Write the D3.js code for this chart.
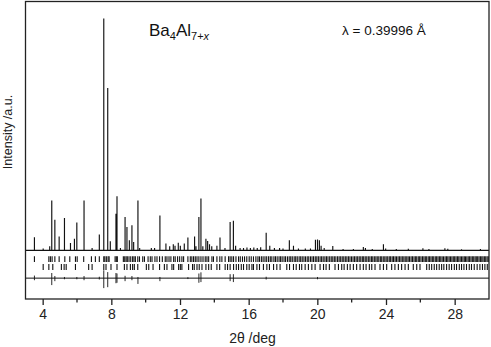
<!DOCTYPE html>
<html><head><meta charset="utf-8">
<script src="https://cdn.jsdelivr.net/npm/d3@7"></script>
<style>body{margin:0;background:#fff}svg{display:block;font-family:"Liberation Sans",Arial,sans-serif}</style>
</head><body><svg id="c" width="491" height="347"></svg>
<script>
// observed peaks: 2theta (deg) and relative intensity
const peakPos = [3.52,4.03,4.41,4.53,4.71,4.96,5.27,5.62,5.85,5.99,6.41,6.88,7.30,7.56,7.79,7.94,8.27,8.33,8.53,8.80,8.91,9.05,9.20,9.30,9.55,9.65,10.33,10.52,10.83,11.18,11.40,11.61,11.71,11.90,12.02,12.25,12.46,12.85,12.93,13.10,13.22,13.33,13.51,13.61,13.72,13.85,14.15,14.33,14.62,14.92,15.11,15.24,15.5,15.7,15.9,16.1,16.3,16.5,16.7,17.02,17.23,17.5,17.8,18.0,18.37,18.61,18.9,19.3,19.6,19.89,20.01,20.12,20.22,20.4,20.9,21.5,22.1,22.68,22.8,23.2,23.85,23.98,24.6,25.3,26.15,26.5,27.43,27.6,28.4,29.5];
const peakInt = [5.6,0.8,1.7,21.5,13.2,6,13.9,3.2,5,12,21.5,1,6.8,100,70,3.9,15.8,23.3,1,14.4,10,4.3,10.8,3.6,21.5,1,1,1,15,2.9,1.7,2.6,2,3.3,2,2.9,5.5,6,1.7,14.4,22.3,1.8,5,4,2.6,1.7,2,5.5,1,12.2,12.7,2,1,1,1.2,1,1.2,1,1.3,7.6,2,1,1,0.8,4.3,2,0.8,0.8,0.8,4.6,4.7,4.3,2,1,1.9,0.6,0.6,1.4,1,0.6,2.6,0.8,0.6,0.7,0.9,0.6,0.9,0.7,0.5,0.6];

// reflection markers, phase 1 (upper row) and phase 2 (lower row)
const ticks1 = [3.52,4.36,4.45,4.55,4.71,4.96,5.29,5.58,5.91,6.01,6.39,6.84,7.07,7.30,7.56,7.62,7.71,7.81,7.87,8.22,8.29,8.35,8.70,8.78,8.86,8.93,9.03,9.13,9.24,9.32,9.40,9.54,9.64,9.83,9.93,10.14,10.27,10.37,10.54,10.66,10.81,10.97,11.14,11.24,11.36,11.47,11.63,11.72,11.86,11.98,12.11,12.21,12.46,12.60,12.69,12.79,12.89,12.99,13.10,13.22,13.34,13.47,13.57,13.67,13.86,13.95,14.15,14.32,14.44,14.63,14.83,14.92,15.02,15.12,15.26,15.41,15.51,15.64,15.76,15.89,16.03,16.15,16.28,16.42,16.54,16.63,16.74,16.84,16.95,17.05,17.16,17.26,17.35,17.47,17.56,17.66,17.77,17.86,17.95,18.06,18.15,18.26,18.36,18.45,18.54,18.65,18.74,18.83,18.94,19.03,19.12,19.22,19.31,19.41,19.50,19.60,19.69,19.78,19.88,19.97,20.06,20.16,20.25,20.34,20.44,20.53,20.62,20.72,20.81,20.90,20.99,21.08,21.18,21.27,21.36,21.45,21.54,21.63,21.72,21.81,21.90,21.99,22.08,22.17,22.26,22.35,22.44,22.53,22.62,22.70,22.79,22.88,22.97,23.06,23.15,23.23,23.32,23.41,23.49,23.58,23.67,23.75,23.84,23.93,24.01,24.10,24.19,24.27,24.36,24.44,24.53,24.61,24.70,24.78,24.87,24.95,25.04,25.12,25.21,25.29,25.37,25.46,25.54,25.63,25.71,25.79,25.88,25.96,26.04,26.13,26.21,26.29,26.37,26.46,26.54,26.62,26.70,26.78,26.87,26.95,27.03,27.11,27.19,27.27,27.35,27.44,27.52,27.60,27.68,27.76,27.84,27.92,28.00,28.08,28.16,28.24,28.32,28.40,28.48,28.56,28.63,28.71,28.79,28.87,28.95,29.03,29.11,29.19,29.26,29.34,29.42,29.50,29.58,29.65,29.73,29.81,29.89,29.96];
const ticks2 = [4.03,4.36,4.59,5.09,5.25,5.37,5.91,6.68,6.88,7.56,7.69,7.98,8.33,8.76,8.91,9.11,9.24,9.34,9.54,10.04,10.18,10.43,10.81,11.09,11.24,11.53,11.63,11.92,12.02,12.11,12.50,12.73,12.83,12.99,13.12,13.28,13.51,13.67,13.82,14.15,14.31,14.63,14.77,14.92,15.12,15.28,15.41,15.57,15.70,15.89,16.03,16.19,16.28,16.48,16.63,16.86,17.06,17.21,17.45,17.64,17.83,18.22,18.38,18.61,18.77,18.96,19.09,19.29,19.48,19.68,19.87,20.16,20.36,20.51,20.70,21.03,21.23,21.42,21.56,21.75,21.91,22.10,22.29,22.49,22.68,22.84,23.03,23.17,23.36,23.65,23.85,24.04,24.33,24.52,24.72,24.91,25.11,25.30,25.59,25.79,25.98,26.37,26.52,26.66,26.81,26.95,27.10,27.24,27.37,27.53,27.68,27.82,27.98,28.11,28.27,28.40,28.54,28.69,28.85,28.98,29.14,29.31,29.47,29.62,29.76,29.90];

// difference curve (obs - calc): position, positive and negative excursion
const diffPos = [3.52,4.53,4.71,5.27,5.99,6.41,7.30,7.56,7.79,8.27,8.33,8.80,9.20,9.55,10.83,12.46,13.10,13.22,14.92,15.11,17.02,20.01];
const diffUp  = [1.1,2.2,0.9,0.5,0.5,0.9,0.6,3.4,2.6,2.2,2.0,1.0,0.9,0.5,0.5,0.4,2.0,2.5,1.7,1.7,0.6,0.5];
const diffDn  = [0.9,3.0,1.3,0.5,0.5,0.9,0.6,4.3,3.9,2.2,2.0,1.3,0.9,2.5,1.3,0.4,2.0,1.7,1.3,1.7,0.6,0.5];

const xTicks = [4,8,12,16,20,24,28];
const xMinor = [6,10,14,18,22,26];

const svg = d3.select("#c");
const L = 25.5, R = 489, T = 1.5, B = 299;
const x = d3.scaleLinear().domain([3, 30]).range([L, R]);
const y = d3.scaleLinear().domain([-21, 107.3]).range([B, T]);

const row1 = [-2.6, -5.0], row2 = [-5.9, -8.5], diffBase = -12;

// observed pattern
let p = d3.path();
p.moveTo(x(3), y(0));
peakPos.forEach((d, i) => { p.lineTo(x(d), y(0)); p.lineTo(x(d), y(peakInt[i])); p.lineTo(x(d), y(0)); });
p.lineTo(x(30), y(0));
svg.append("path").attr("d", p.toString()).attr("fill", "none").attr("stroke", "#111").attr("stroke-width", 1.15);

// reflection markers
svg.append("g").selectAll("line").data(ticks1).join("line")
  .attr("x1", d => x(d)).attr("x2", d => x(d)).attr("y1", y(row1[0])).attr("y2", y(row1[1]))
  .attr("stroke", "#111").attr("stroke-width", 1.1);
svg.append("g").selectAll("line").data(ticks2).join("line")
  .attr("x1", d => x(d)).attr("x2", d => x(d)).attr("y1", y(row2[0])).attr("y2", y(row2[1]))
  .attr("stroke", "#111").attr("stroke-width", 1.1);

// difference curve
svg.append("line").attr("x1", x(3)).attr("x2", x(30)).attr("y1", y(diffBase)).attr("y2", y(diffBase))
  .attr("stroke", "#111").attr("stroke-width", 1);
svg.append("g").selectAll("line").data(diffPos).join("line")
  .attr("x1", d => x(d)).attr("x2", d => x(d))
  .attr("y1", (d, i) => y(diffBase + diffUp[i])).attr("y2", (d, i) => y(diffBase - diffDn[i]))
  .attr("stroke", "#111").attr("stroke-width", 0.9);

// frame
svg.append("rect").attr("x", L).attr("y", T).attr("width", R - L).attr("height", B - T)
  .attr("fill", "none").attr("stroke", "#222").attr("stroke-width", 1.3);

// x axis
const ax = svg.append("g").attr("transform", `translate(0,${B})`)
  .call(d3.axisBottom(x).tickValues(xTicks).tickSize(6).tickPadding(4).tickFormat(d3.format("d")));
ax.select(".domain").remove();
ax.selectAll("line").attr("stroke", "#222").attr("stroke-width", 1.3);
ax.selectAll("text").attr("font-size", 14).attr("fill", "#222").attr("font-family", '"Liberation Sans",Arial,sans-serif');
svg.append("g").selectAll("line").data(xMinor).join("line")
  .attr("x1", d => x(d)).attr("x2", d => x(d)).attr("y1", B).attr("y2", B + 3.5)
  .attr("stroke", "#222").attr("stroke-width", 1.3);

svg.append("text").attr("x", 252.5).attr("y", 342.5).attr("text-anchor", "middle")
  .attr("font-size", 14).attr("fill", "#222").text("2θ /deg");
svg.append("text").attr("transform", "translate(12,132) rotate(-90)").attr("text-anchor", "middle")
  .attr("font-size", 12.5).attr("fill", "#222").text("Intensity /a.u.");

// annotations
const t = svg.append("text").attr("x", 149).attr("y", 36).attr("font-size", 17).attr("fill", "#111");
t.append("tspan").text("Ba");
t.append("tspan").attr("font-size", 11).attr("dy", 4).text("4");
t.append("tspan").attr("dy", -4).text("Al");
t.append("tspan").attr("font-size", 11).attr("dy", 4).text("7+");
t.append("tspan").attr("font-size", 11).attr("font-style", "italic").text("x");

svg.append("text").attr("x", 342).attr("y", 35).attr("font-size", 13.5).attr("fill", "#111").text("λ = 0.39996 Å");
</script></body></html>
